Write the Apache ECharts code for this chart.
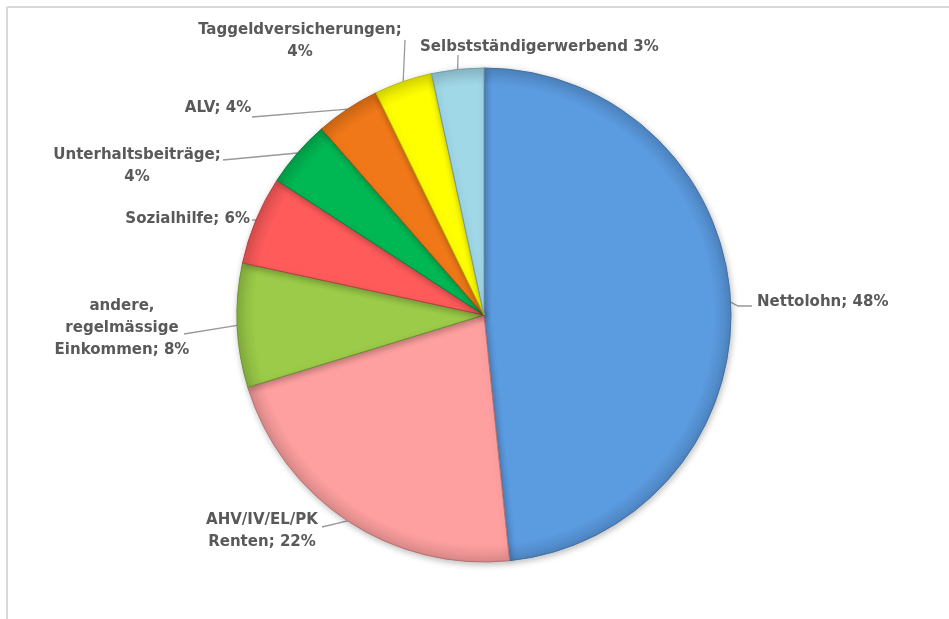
<!DOCTYPE html>
<html>
<head>
<meta charset="utf-8">
<script src="https://cdn.jsdelivr.net/npm/echarts@6/dist/echarts.min.js"></script>
<style>
html,body{margin:0;padding:0;background:#fff;}
#chart{width:949px;height:619px;}
</style>
</head>
<body>
<div id="chart"></div>
<script>
const categories = ['Nettolohn', 'AHV/IV/EL/PK Renten', 'andere, regelmässige Einkommen', 'Sozialhilfe', 'Unterhaltsbeiträge', 'ALV', 'Taggeldversicherungen', 'Selbstständigerwerbend'];
const values = [48.3, 21.9, 8.1, 5.8, 4.4, 4.2, 3.8, 3.4];
const labelTexts = ['Nettolohn; 48%', 'AHV/IV/EL/PK\nRenten; 22%', 'andere,\nregelmässige\nEinkommen; 8%', 'Sozialhilfe; 6%', 'Unterhaltsbeiträge;\n4%', 'ALV; 4%', 'Taggeldversicherungen;\n4%', 'Selbstständigerwerbend 3%'];
const colors = ['#5B9BE0', '#FFA0A0', '#9BCB48', '#FF5B5B', '#00B853', '#F07818', '#FFFF00', '#A0D8E8'];

// label placement (layout only)
const labelPlace = [
  {x: 757, y: 302, align: 'left', end: [[738, 306], [752, 306]]},
  {x: 262, y: 531, align: 'center', end: [[322, 527]]},
  {x: 122, y: 328, align: 'center', end: [[184, 334]]},
  {x: 250, y: 219, align: 'right', end: [[252, 220]]},
  {x: 137, y: 166, align: 'center', end: [[223, 160]]},
  {x: 218, y: 108, align: 'center', end: [[252, 117]]},
  {x: 300, y: 41, align: 'center', end: [[405, 40]]},
  {x: 420, y: 47, align: 'left', end: [[458, 55]]}
];

function shade(hex, f) {
  const n = parseInt(hex.slice(1), 16);
  let r = (n >> 16) & 255, g = (n >> 8) & 255, b = n & 255;
  r = Math.round(r * f); g = Math.round(g * f); b = Math.round(b * f);
  return 'rgb(' + r + ',' + g + ',' + b + ')';
}

const chart = echarts.init(document.getElementById('chart'), null, {renderer: 'canvas'});
const option = {
  animation: false,
  backgroundColor: '#ffffff',
  graphic: [
    {type: 'line', shape: {x1: 7, y1: 7, x2: 949, y2: 7}, style: {stroke: '#d9d9d9', lineWidth: 2}, silent: true},
    {type: 'line', shape: {x1: 7, y1: 7, x2: 7, y2: 619}, style: {stroke: '#d9d9d9', lineWidth: 2}, silent: true}
  ],
  series: [{
    type: 'pie',
    center: [484, 315],
    radius: [0, 247],
    startAngle: 90,
    clockwise: true,
    avoidLabelOverlap: false,
    data: categories.map((c, i) => ({
      name: c,
      value: values[i],
      itemStyle: {
        color: {
          type: 'radial', x: 484, y: 315, r: 247, global: true,
          colorStops: [
            {offset: 0, color: colors[i]},
            {offset: 0.93, color: colors[i]},
            {offset: 1, color: shade(colors[i], 0.86)}
          ]
        },
        borderColor: shade(colors[i], 0.72),
        borderWidth: 1
      }
    })),
    itemStyle: {
      shadowBlur: 6,
      shadowColor: 'rgba(0,0,0,0.25)',
      shadowOffsetX: 1,
      shadowOffsetY: 2
    },
    label: {
      show: true,
      formatter: p => labelTexts[p.dataIndex],
      fontFamily: 'Tahoma, "DejaVu Sans Condensed", "DejaVu Sans", sans-serif',
      fontWeight: 'bold',
      fontSize: 16.7,
      lineHeight: 22,
      color: '#595959'
    },
    labelLine: {
      show: true,
      length: 10,
      length2: 10,
      lineStyle: {color: '#999999', width: 1.3}
    },
    labelLayout: function (params) {
      const pl = labelPlace[params.dataIndex];
      const start = params.labelLinePoints ? params.labelLinePoints[0] : null;
      const res = {x: pl.x, y: pl.y, align: pl.align, verticalAlign: 'middle'};
      if (start) res.labelLinePoints = [start].concat(pl.end);
      return res;
    },
    emphasis: {disabled: true}
  }]
};
chart.setOption(option);
</script>
</body>
</html>
